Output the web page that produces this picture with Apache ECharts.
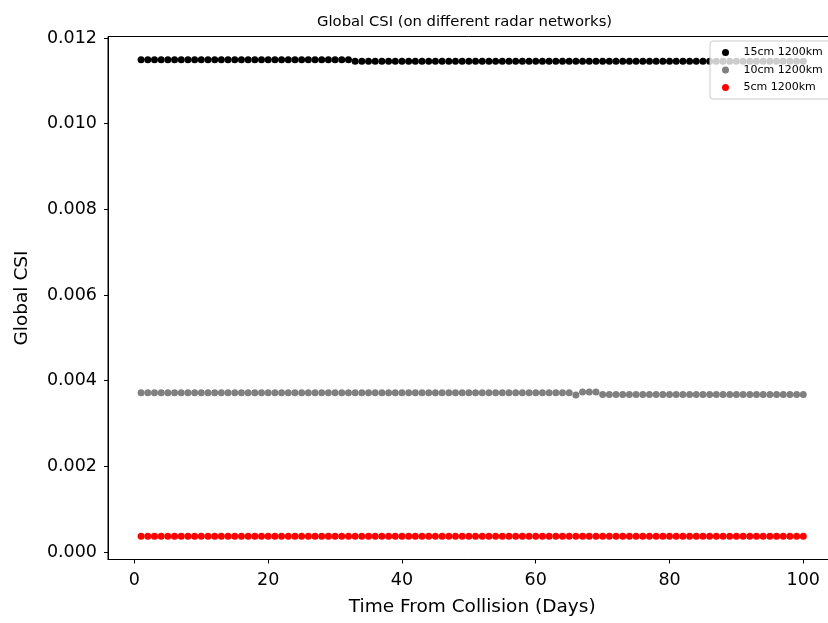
<!DOCTYPE html>
<html>
<head>
<meta charset="utf-8">
<script src="https://cdn.jsdelivr.net/npm/echarts@6/dist/echarts.min.js"></script>
<style>html,body{margin:0;padding:0;background:#fff}#c{width:828px;height:623px}</style>
</head>
<body>
<div id="c"></div>
<script>
const days = [1,2,3,4,5,6,7,8,9,10,11,12,13,14,15,16,17,18,19,20,21,22,23,24,25,26,27,28,29,30,31,32,33,34,35,36,37,38,39,40,41,42,43,44,45,46,47,48,49,50,51,52,53,54,55,56,57,58,59,60,61,62,63,64,65,66,67,68,69,70,71,72,73,74,75,76,77,78,79,80,81,82,83,84,85,86,87,88,89,90,91,92,93,94,95,96,97,98,99,100];
const csi15 = [
0.01149,0.01149,0.01149,0.01149,0.01149,0.01149,0.01149,0.01149,0.01149,0.01149,
0.01149,0.01149,0.01149,0.01149,0.01149,0.01149,0.01149,0.01149,0.01149,0.01149,
0.01149,0.01149,0.01149,0.01149,0.01149,0.01149,0.01149,0.01149,0.01149,0.01149,
0.01149,0.01149,0.01146,0.01146,0.01146,0.01146,0.01146,0.01146,0.01146,0.01146,
0.01146,0.01146,0.01146,0.01146,0.01146,0.01146,0.01146,0.01146,0.01146,0.01146,
0.01146,0.01146,0.01146,0.01146,0.01146,0.01146,0.01146,0.01146,0.01146,0.01146,
0.01146,0.01146,0.01146,0.01146,0.01146,0.01146,0.01146,0.01146,0.01146,0.01146,
0.01146,0.01146,0.01146,0.01146,0.01146,0.01146,0.01146,0.01146,0.01146,0.01146,
0.01146,0.01146,0.01146,0.01146,0.01146,0.01146,0.01146,0.01146,0.01146,0.01146,
0.01146,0.01146,0.01146,0.01146,0.01146,0.01146,0.01146,0.01146,0.01146,0.01146];
const csi10 = [
0.00372,0.00372,0.00372,0.00372,0.00372,0.00372,0.00372,0.00372,0.00372,0.00372,
0.00372,0.00372,0.00372,0.00372,0.00372,0.00372,0.00372,0.00372,0.00372,0.00372,
0.00372,0.00372,0.00372,0.00372,0.00372,0.00372,0.00372,0.00372,0.00372,0.00372,
0.00372,0.00372,0.00372,0.00372,0.00372,0.00372,0.00372,0.00372,0.00372,0.00372,
0.00372,0.00372,0.00372,0.00372,0.00372,0.00372,0.00372,0.00372,0.00372,0.00372,
0.00372,0.00372,0.00372,0.00372,0.00372,0.00372,0.00372,0.00372,0.00372,0.00372,
0.00372,0.00372,0.00372,0.00372,0.00372,0.003665,0.003735,0.003735,0.003735,0.00368,
0.00368,0.00368,0.00368,0.00368,0.00368,0.00368,0.00368,0.00368,0.00368,0.00368,
0.00368,0.00368,0.00368,0.00368,0.00368,0.00368,0.00368,0.00368,0.00368,0.00368,
0.00368,0.00368,0.00368,0.00368,0.00368,0.00368,0.00368,0.00368,0.00368,0.00368];
const csi5 = [
0.00037,0.00037,0.00037,0.00037,0.00037,0.00037,0.00037,0.00037,0.00037,0.00037,
0.00037,0.00037,0.00037,0.00037,0.00037,0.00037,0.00037,0.00037,0.00037,0.00037,
0.00037,0.00037,0.00037,0.00037,0.00037,0.00037,0.00037,0.00037,0.00037,0.00037,
0.00037,0.00037,0.00037,0.00037,0.00037,0.00037,0.00037,0.00037,0.00037,0.00037,
0.00037,0.00037,0.00037,0.00037,0.00037,0.00037,0.00037,0.00037,0.00037,0.00037,
0.00037,0.00037,0.00037,0.00037,0.00037,0.00037,0.00037,0.00037,0.00037,0.00037,
0.00037,0.00037,0.00037,0.00037,0.00037,0.00037,0.00037,0.00037,0.00037,0.00037,
0.00037,0.00037,0.00037,0.00037,0.00037,0.00037,0.00037,0.00037,0.00037,0.00037,
0.00037,0.00037,0.00037,0.00037,0.00037,0.00037,0.00037,0.00037,0.00037,0.00037,
0.00037,0.00037,0.00037,0.00037,0.00037,0.00037,0.00037,0.00037,0.00037,0.00037];
const seriesNames = ['15cm 1200km', '10cm 1200km', '5cm 1200km'];
const xTicks = [0, 20, 40, 60, 80, 100];
const yTicks = [0, 0.002, 0.004, 0.006, 0.008, 0.010, 0.012];
const titleText = 'Global CSI (on different radar networks)';
const xName = 'Time From Collision (Days)';
const yName = 'Global CSI';

const FONT = 'DejaVu Sans';
const chart = echarts.init(document.getElementById('c'), null, {renderer: 'canvas'});
const pairs = arr => days.map((d, i) => [d, arr[i]]);
const colors = ['#000000', '#808080', '#ff0000'];
const allData = [csi15, csi10, csi5];

chart.setOption({
  animation: false,
  backgroundColor: '#fff',
  title: {
    text: titleText, left: 312, top: 10,
    textStyle: {fontFamily: FONT, fontSize: 14.8, fontWeight: 'normal', color: '#000'}
  },
  legend: {
    data: seriesNames, orient: 'vertical', left: 710, top: 41,
    itemWidth: 26, itemHeight: 7, itemGap: 6.5,
    padding: [6, 14, 6, 12],
    backgroundColor: 'rgba(255,255,255,0.8)', borderColor: '#cccccc', borderWidth: 1, borderRadius: 3,
    textStyle: {fontFamily: FONT, fontSize: 11, color: '#000'}
  },
  grid: {left: 108, width: 728.4, top: 36.5, bottom: 63.5, outerBoundsMode: 'none', containLabel: false,
    show: true, borderColor: '#000', borderWidth: 1, backgroundColor: 'transparent'},
  xAxis: {
    type: 'value', min: -3.95, max: 104.95,
    name: xName, nameLocation: 'middle', nameGap: 38,
    nameTextStyle: {fontFamily: FONT, fontSize: 18.5, color: '#000'},
    axisLine: {show: true, onZero: false, lineStyle: {color: '#000', width: 1}},
    axisTick: {show: true, inside: false, length: 4, customValues: xTicks, lineStyle: {color: '#000'}},
    axisLabel: {customValues: xTicks, fontFamily: FONT, fontSize: 17.5, color: '#000', margin: 12},
    splitLine: {show: false}
  },
  yAxis: {
    type: 'value', min: -0.000175, max: 0.012035,
    name: yName, nameLocation: 'middle', nameGap: 76, nameRotate: 90,
    nameTextStyle: {fontFamily: FONT, fontSize: 18.5, color: '#000'},
    axisLine: {show: true, onZero: false, lineStyle: {color: '#000', width: 1}},
    axisTick: {show: true, inside: false, length: 4, customValues: yTicks, lineStyle: {color: '#000'}},
    axisLabel: {customValues: yTicks, fontFamily: FONT, fontSize: 17.5, color: '#000', margin: 11,
      formatter: v => v.toFixed(3)},
    splitLine: {show: false}
  },
  series: seriesNames.map((n, i) => ({
    name: n, type: 'scatter', data: pairs(allData[i]),
    symbol: 'circle', symbolSize: 7,
    itemStyle: {color: colors[i], opacity: 1}
  }))
});
</script>
</body>
</html>
